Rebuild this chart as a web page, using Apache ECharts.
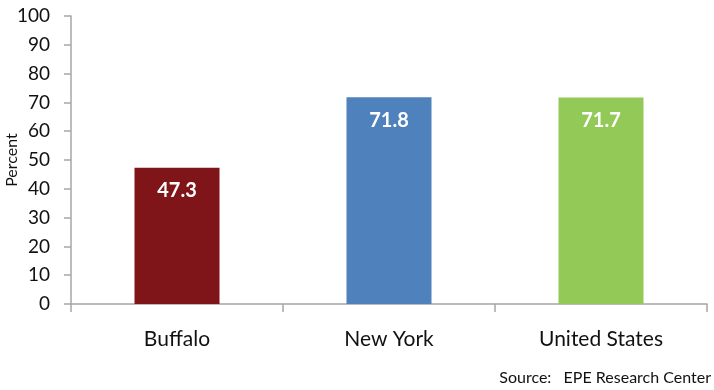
<!DOCTYPE html>
<html>
<head>
<meta charset="utf-8">
<script src="https://cdn.jsdelivr.net/npm/echarts@6/dist/echarts.min.js"></script>
<style>
  html, body { margin: 0; padding: 0; background: #fff; }
  #chart { width: 714px; height: 390px; }
</style>
</head>
<body>
<div id="chart"></div>
<script>
// Share of students graduating, by place
const categories = ['Buffalo', 'New York', 'United States'];
const values = [47.3, 71.8, 71.7];
const barColors = ['#7F1519', '#4F81BD', '#92C957'];

const chart = echarts.init(document.getElementById('chart'), null, { renderer: 'canvas' });
const font = 'Lato, "Open Sans", sans-serif';
const axisGrey = '#A6A6A6';

chart.setOption({
  animation: false,
  textStyle: { fontFamily: font },
  grid: { left: 71, right: 7, top: 16, bottom: 86, outerBoundsMode: 'none', containLabel: false },
  xAxis: {
    type: 'category',
    data: categories,
    axisLine: { lineStyle: { color: axisGrey, width: 1.5 } },
    axisTick: { show: true, length: 8, lineStyle: { color: axisGrey, width: 1.5 } },
    axisLabel: { color: '#111', fontSize: 21, margin: 25, fontFamily: font }
  },
  yAxis: {
    type: 'value',
    min: 0,
    max: 100,
    interval: 10,
    name: 'Percent',
    nameLocation: 'middle',
    nameGap: 51,
    nameMoveOverlap: false,
    nameTextStyle: { color: '#111', fontSize: 16, fontFamily: font },
    splitLine: { show: false },
    axisLine: { show: true, lineStyle: { color: axisGrey, width: 1.5 } },
    axisTick: { show: true, length: 7, lineStyle: { color: axisGrey, width: 1.5 } },
    axisLabel: { color: '#111', fontSize: 19, margin: 21, fontFamily: font }
  },
  series: [{
    type: 'bar',
    data: values.map((v, i) => ({ value: v, itemStyle: { color: barColors[i] } })),
    barWidth: 85,
    label: {
      show: true,
      position: 'insideTop',
      distance: 13,
      color: '#fff',
      fontWeight: 'bold',
      fontSize: 20,
      fontFamily: font,
      formatter: p => p.value.toFixed(1)
    }
  }],
  graphic: [{
    type: 'text',
    right: 3,
    bottom: 4,
    style: {
      text: 'Source:   EPE Research Center',
      fill: '#111',
      fontSize: 16,
      fontFamily: font
    }
  }]
});
</script>
</body>
</html>
